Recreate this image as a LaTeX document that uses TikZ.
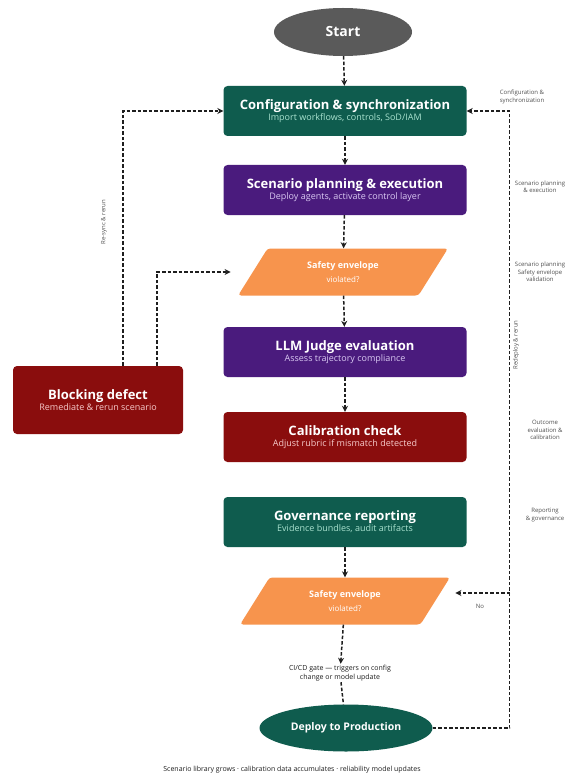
\documentclass[tikz,border=0pt]{standalone}
\usepackage{fontspec}
\setmainfont{Open Sans}
\usetikzlibrary{shapes.geometric,arrows.meta}
\definecolor{teal}{HTML}{0F5C4E}
\definecolor{purp}{HTML}{4A1B7D}
\definecolor{dred}{HTML}{8A0D0D}
\definecolor{orng}{HTML}{F7944D}
\definecolor{gry}{HTML}{5A5A5A}
\definecolor{tealsub}{HTML}{A9E2CF}
\definecolor{purpsub}{HTML}{D9C8F2}
\definecolor{redsub}{HTML}{F6CACA}
\definecolor{lnk}{HTML}{1E1E1E}
\definecolor{lbl}{HTML}{505050}
\tikzset{
  box/.style={rectangle,rounded corners=4pt,minimum width=243pt,minimum height=50pt,align=center,text=white,inner sep=2pt},
  tbox/.style={box,fill=teal},
  pbox/.style={box,fill=purp},
  rbox/.style={box,fill=dred},
  envbox/.style={trapezium,trapezium left angle=58,trapezium right angle=122,trapezium stretches=true,minimum width=210pt,minimum height=47pt,fill=orng,rounded corners=3pt,align=center,text=white,inner sep=1pt},
  conn/.style={draw=lnk,line width=1.5pt,dash pattern=on 3.5pt off 2pt,-{Stealth[length=6pt,width=6pt]}},
  plain/.style={draw=lnk,line width=1.5pt,dash pattern=on 3.5pt off 2pt},
  side/.style={font=\fontsize{6}{7.5}\selectfont,text=lbl,align=center,inner sep=1pt},
}
\newcommand{\subt}[2]{{\fontsize{9}{11}\selectfont\color{#1}#2}}
\begin{document}
\begin{tikzpicture}[x=1pt,y=-1pt]
\useasboundingbox (0,0) rectangle (574,778);
\fill[white] (0,0) rectangle (574,778);

\node[ellipse,fill=gry,minimum width=138pt,minimum height=48pt,text=white,font=\fontsize{14}{16}\selectfont\bfseries] (start) at (343,32) {Start};

\node[tbox] (cfg) at (345,111) {{\fontsize{13}{16}\selectfont\bfseries Configuration \& synchronization}\\[-1pt]\subt{tealsub}{Import workflows, controls, SoD/IAM}};
\node[pbox] (scn) at (345,190) {{\fontsize{13}{16}\selectfont\bfseries Scenario planning \& execution}\\[-1pt]\subt{purpsub}{Deploy agents, activate control layer}};
\node[envbox] (env1) at (343,272) {{\fontsize{9}{10}\selectfont\bfseries Safety envelope}\\[2pt]{\fontsize{8}{9}\selectfont violated?}};
\node[pbox] (llm) at (345,352) {{\fontsize{13}{16}\selectfont\bfseries LLM Judge evaluation}\\[-1pt]\subt{purpsub}{Assess trajectory compliance}};
\node[rbox] (cal) at (345,437) {{\fontsize{13}{16}\selectfont\bfseries Calibration check}\\[-1pt]\subt{redsub}{Adjust rubric if mismatch detected}};
\node[tbox] (gov) at (345,522) {{\fontsize{13}{16}\selectfont\bfseries Governance reporting}\\[-1pt]\subt{tealsub}{Evidence bundles, audit artifacts}};
\node[envbox] (env2) at (345,601) {{\fontsize{9}{10}\selectfont\bfseries Safety envelope}\\[2pt]{\fontsize{8}{9}\selectfont violated?}};
\node[align=center,font=\fontsize{7}{9}\selectfont,text=lnk,inner sep=1pt] (ci) at (340,673) {CI/CD gate — triggers on config\\change or model update};
\node[ellipse,fill=teal,minimum width=173pt,minimum height=47pt,text=white,font=\fontsize{10.5}{12}\selectfont\bfseries] (dep) at (346,728) {Deploy to Production};

\node[rectangle,rounded corners=4pt,fill=dred,minimum width=170pt,minimum height=68pt,align=center,text=white,inner sep=2pt] (blk) at (98,400) {{\fontsize{13}{16}\selectfont\bfseries Blocking defect}\\[-1pt]\subt{redsub}{Remediate \& rerun scenario}};

\node[font=\fontsize{7}{9}\selectfont,text=lnk] (foot) at (292,770) {Scenario library grows · calibration data accumulates · reliability model updates};

% main flow
\draw[conn] (start) -- (cfg);
\draw[conn] (cfg) -- (scn);
\draw[conn] (scn) -- (env1);
\draw[conn] (env1) -- (llm);
\draw[conn] (llm) -- (cal);
\draw[conn] (gov) -- (env2);
\draw[conn] (env2) -- (ci);
\draw[plain] (ci) -- (dep);

% left loops
\draw[conn] ([xshift=25pt]blk.north) |- (cfg.west);
\draw[conn] ([xshift=59pt]blk.north) |- ([xshift=-22pt]env1.west);
\node[side,rotate=90] (lres) at (104,222) {Re-sync \& rerun};

% right loop
\coordinate (rx) at ([xshift=43pt]cfg.east);
\draw[conn] (dep.east) -| (rx) -- (cfg.east);
\coordinate (nj) at (510,593);
\draw[conn] (nj) -- ([xshift=20pt]env2.east |- nj);
\node[side] (no) at (480,606) {No};

% right labels
\node[side] (l1) at (522,97) {Configuration \&\\synchronization};
\node[side] (l2) at (540,187) {Scenario planning\\\& execution};
\node[side] (l3) at (540,272) {Scenario planning\\Safety envelope\\validation};
\node[side,rotate=90] (l4) at (516,345) {Redeploy \& rerun};
\node[side] (l5) at (545,430) {Outcome\\evaluation \&\\calibration};
\node[side] (l6) at (545,515) {Reporting\\\& governance};
\end{tikzpicture}
\end{document}
